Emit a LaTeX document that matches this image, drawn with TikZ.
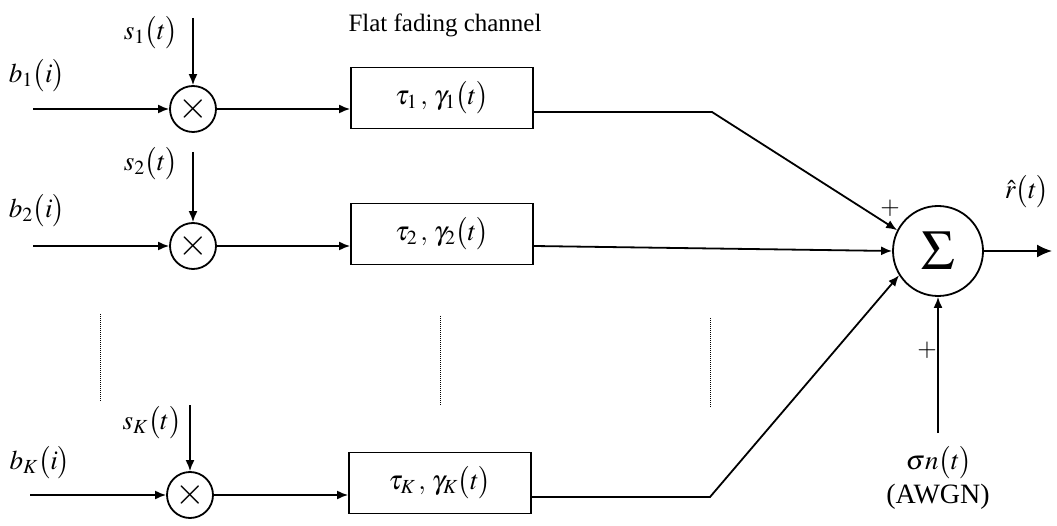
\documentclass[tikz,border=0pt]{standalone}
\usepackage{mathptmx}
\usepackage{fontspec}
\setmainfont{Liberation Serif}
\usetikzlibrary{arrows.meta}
\begin{document}
\begin{tikzpicture}[x=1pt,y=-1pt, line width=1.8pt,
  font=\fontsize{25}{29}\selectfont,
  mult/.style={circle,draw,minimum size=46pt,inner sep=0pt,font=\fontsize{38}{38}\selectfont},
  chan/.style={rectangle,draw,minimum width=182pt,minimum height=61pt,inner sep=0pt,font=\fontsize{27}{30}\selectfont},
  summer/.style={circle,draw,minimum size=90pt,inner sep=0pt,font=\fontsize{56}{56}\selectfont},
  arr/.style={-{Latex[length=11pt,width=9pt]}},
  bigarr/.style={-{Latex[length=15pt,width=13pt]}},
  lbl/.style={inner sep=0pt},
  mlbl/.style={inner sep=0pt,font=\fontsize{27}{30}\selectfont},
  vdots/.style={line width=1pt,dash pattern=on 1pt off 1pt}]
\useasboundingbox (0,0) rectangle (1057,526);

% multipliers
\node[mult] (m1) at (193,109) {$\times$};
\node[mult] (m2) at (193,246) {$\times$};
\node[mult] (mK) at (190,495) {$\times$};

% channel boxes
\node[chan] (c1) at (442,98)  {$\tau_1\,,\,\gamma_1\bigl(t\bigr)$};
\node[chan] (c2) at (442,234) {$\tau_2\,,\,\gamma_2\bigl(t\bigr)$};
\node[chan] (cK) at (440,483) {$\tau_K\,,\,\gamma_K\bigl(t\bigr)$};

% summer
\node[summer] (sum) at (938,251) {$\Sigma$};

% coordinates
\coordinate (b1in) at (33,109);
\coordinate (s1in) at (193,18);
\coordinate (b2in) at (33,246);
\coordinate (s2in) at (193,152);
\coordinate (bKin) at (30,495);
\coordinate (sKin) at (190,405);
\coordinate (k1) at (712,112);
\coordinate (kK) at (710,497);
\coordinate (out) at (1052,251);
\coordinate (noise) at (938,433);

% connectors
\draw[arr] (b1in) -- (m1);
\draw[arr] (s1in) -- (m1);
\draw[arr] (m1) -- (m1 -| c1.west);
\draw[arr] (b2in) -- (m2);
\draw[arr] (s2in) -- (m2);
\draw[arr] (m2) -- (m2 -| c2.west);
\draw[arr] (bKin) -- (mK);
\draw[arr] (sKin) -- (mK);
\draw[arr] (mK) -- (mK -| cK.west);

\draw[arr] (c1.east |- k1) -- (k1) -- (sum.153);
\draw[arr] (c2.east |- m2) -- (sum.west);
\draw[arr] (cK.east |- kK) -- (kK) -- (sum.212);
\draw[arr] (noise) -- (sum.south);
\draw[bigarr] (sum.east) -- (out);

% dotted continuation marks
\draw[vdots] (100,314) -- (100,402);
\draw[vdots] (440,316) -- (440,405);
\draw[vdots] (710,318) -- (710,407);

% labels
\node[mlbl] (ls1) at (151,33)  {$s_1\bigl(t\bigr)$};
\node[mlbl] (lb1) at (37,76)   {$b_1\bigl(i\bigr)$};
\node[mlbl] (ls2) at (151,164) {$s_2\bigl(t\bigr)$};
\node[mlbl] (lb2) at (37,211)  {$b_2\bigl(i\bigr)$};
\node[mlbl] (lsK) at (152,423) {$s_K\bigl(t\bigr)$};
\node[mlbl] (lbK) at (40,463)  {$b_K\bigl(i\bigr)$};
\node[lbl] (title) at (445,25) {Flat fading channel};
\node[mlbl] (lr) at (1027,192) {$\hat r\bigl(t\bigr)$};
\node[lbl] (p1) at (890,208) {$+$};
\node[lbl] (p2) at (927,350) {$+$};
\node[mlbl] (ln) at (939,463) {$\sigma n\bigl(t\bigr)$};
\node[lbl,font=\fontsize{28}{30}\selectfont] (lawgn) at (938,497) {(AWGN)};
\end{tikzpicture}
\end{document}
